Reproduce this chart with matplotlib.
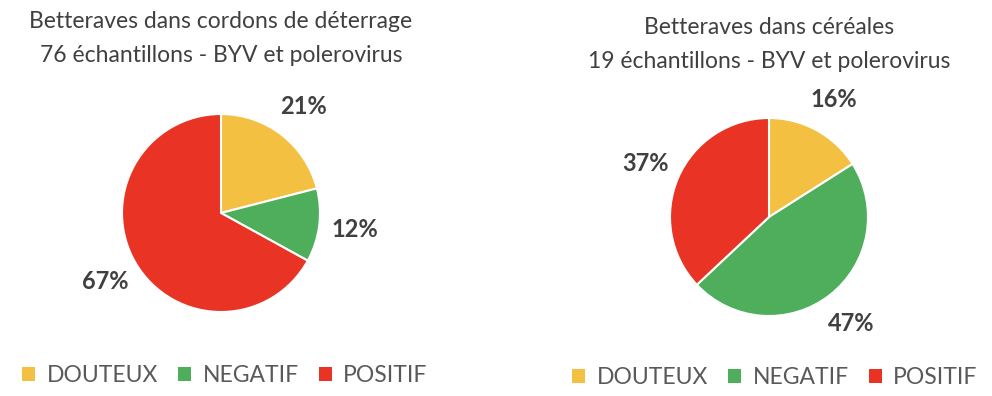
import matplotlib
matplotlib.use("Agg")
import matplotlib.pyplot as plt
from matplotlib.patches import Patch

plt.rcParams['font.family'] = ['Lato', 'DejaVu Sans']

categories = ["DOUTEUX", "NEGATIF", "POSITIF"]
cordons = [21, 12, 67]
cereales = [16, 47, 37]
titles = ["Betteraves dans cordons de déterrage\n76 échantillons - BYV et polerovirus",
          "Betteraves dans céréales\n19 échantillons - BYV et polerovirus"]
colors = ["#F4C042", "#4FAE5C", "#E83325"]

fig = plt.figure(figsize=(9.92, 3.96), dpi=100)

W, H = 992, 396
r = 99
centers = [(221, 213), (769, 217)]
title_y = [(22, 55), (27, 62)]
legend_pos = [(225, 376), (775, 378)]

for data, title, (cx, cy), (t1, t2), (lx, ly) in zip([cordons, cereales], titles, centers, title_y, legend_pos):
    ax = fig.add_axes([(cx - r) / W, 1 - (cy + r) / H, 2 * r / W, 2 * r / H])
    wedges, texts = ax.pie(data, colors=colors, startangle=90, counterclock=False,
                           labels=[f"{v}%" for v in data], labeldistance=1.36,
                           wedgeprops=dict(edgecolor="white", linewidth=1.5),
                           textprops=dict(fontsize=17, fontweight="bold", color="#404040"))
    for t in texts:
        t.set_horizontalalignment("center")
        t.set_verticalalignment("center")
    ax.set_xlim(-1, 1)
    ax.set_ylim(-1, 1)
    ax.set_aspect("equal")
    l1, l2 = title.split("\n")
    fig.text(cx / W, 1 - t1 / H, l1, ha="center", va="center", fontsize=16.5, color="#404040")
    fig.text(cx / W, 1 - t2 / H, l2, ha="center", va="center", fontsize=16.5, color="#404040")
    handles = [Patch(facecolor=c, edgecolor="none") for c in colors]
    fig.legend(handles, categories, loc="center", bbox_to_anchor=(lx / W, 1 - ly / H), ncol=3,
               frameon=False, fontsize=16.5, labelcolor="#595959", handlelength=0.55, handleheight=0.55,
               handletextpad=0.5, columnspacing=0.9)

fig.savefig("out.png", dpi=100)
